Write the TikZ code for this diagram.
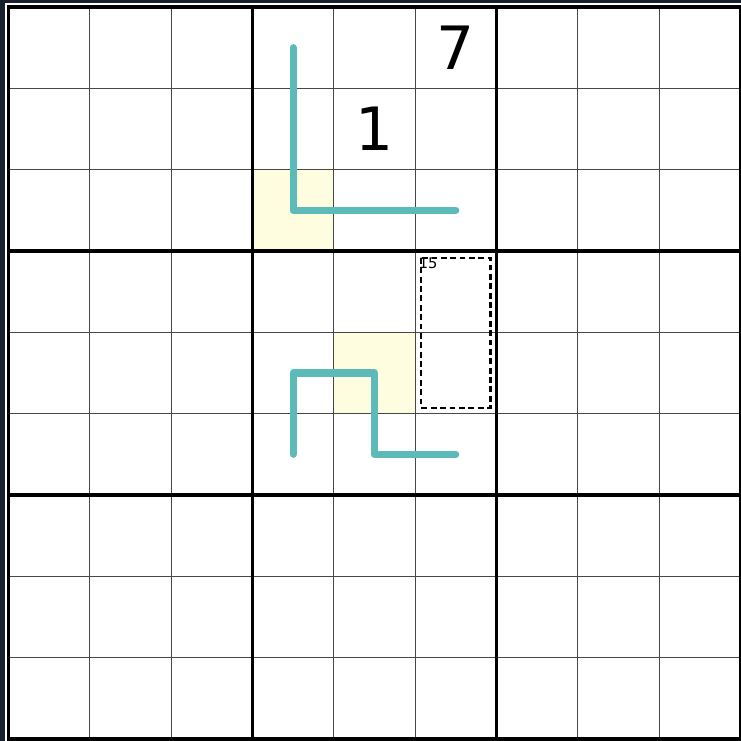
\documentclass[tikz,border=0pt]{standalone}
\usepackage{fontspec}
\newfontfamily\digitfont{DejaVu Sans}
\begin{document}
\begin{tikzpicture}[x=0.03cm,y=-0.03cm,
  thinline/.style={draw=black!72,line width=1.1pt},
  boxline/.style={draw=black,line width=2.6pt},
  borderline/.style={draw=black,line width=3.2pt},
  thermo/.style={line width=6pt,line cap=round,line join=round},
  given/.style={font=\digitfont\fontsize{51}{51}\selectfont,inner sep=0pt},
  cage/.style={draw=black,dash pattern=on 5pt off 3pt,line width=1.8pt},
  cagesum/.style={font=\digitfont\fontsize{12.5}{12.5}\selectfont,inner sep=0pt,anchor=north west}]
\definecolor{bgdark}{HTML}{18202E}
\definecolor{thermocol}{HTML}{5CBBB8}
\definecolor{yel}{HTML}{FEFDE0}
% background
\fill[bgdark] (0,0) rectangle (741,741);
\fill[white] (5,3.5) rectangle (741,741);
\useasboundingbox (0,0) rectangle (741,741);
% grid geometry: origin (8.5,7), cell 81.33
\def\cs{81.33}
% highlighted cells
\fill[yel] (8.5+3*\cs,7+2*\cs) rectangle (8.5+4*\cs,7+3*\cs);
\fill[yel] (8.5+4*\cs,7+4*\cs) rectangle (8.5+5*\cs,7+5*\cs);
% thin lines
\foreach \i in {1,2,4,5,7,8} {
  \draw[thinline] (8.5+\i*\cs,7) -- (8.5+\i*\cs,7+9*\cs);
  \draw[thinline] (8.5,7+\i*\cs) -- (8.5+9*\cs,7+\i*\cs);
}
% box lines
\foreach \i in {3,6} {
  \draw[boxline] (8.5+\i*\cs,7) -- (8.5+\i*\cs,7+9*\cs);
  \draw[boxline] (8.5,7+\i*\cs) -- (8.5+9*\cs,7+\i*\cs);
}
\draw[borderline] (8.5,7) rectangle (8.5+9*\cs,7+9*\cs);
% cell centre coordinates
\foreach \r in {0,...,8} {\foreach \c in {0,...,8} {
  \coordinate (r\r c\c) at (8.5+\c*\cs+0.5*\cs,7+\r*\cs+0.5*\cs);
}}
% line clues
\draw[thermo,draw=thermocol] (r0c3) -- (r2c3) -- (r2c5);
\draw[thermo,draw=thermocol] (r5c3) -- (r4c3) -- (r4c4) -- (r5c4) -- (r5c5);
% killer cage
\coordinate (cageA) at (8.5+5*\cs+6,7+3*\cs+7);
\coordinate (cageB) at (8.5+6*\cs-6,7+5*\cs-6);
\draw[cage] (cageA) rectangle (cageB);
\node[cagesum] (sum) at (8.5+5*\cs+3.5,7+3*\cs+7) {15};
% given digits
\node[given] (g7) at (r0c5) {7};
\node[given] (g1) at (r1c4) {1};
\end{tikzpicture}
\end{document}
